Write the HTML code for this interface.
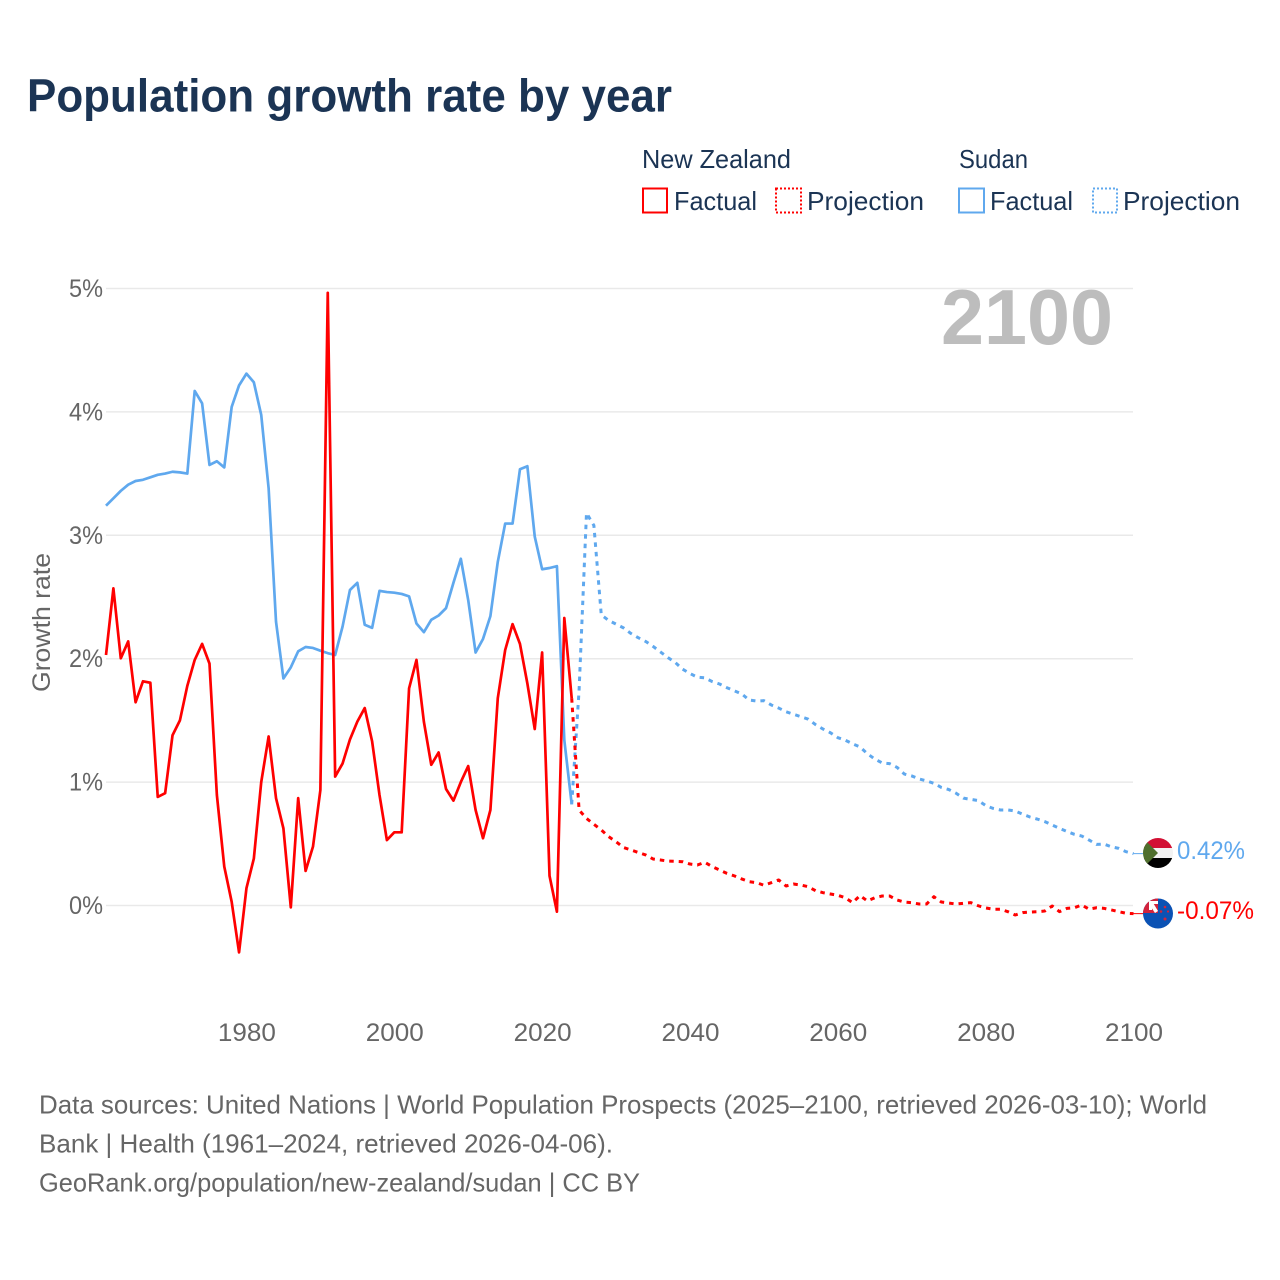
<!DOCTYPE html>
<html lang="en">
<head>
<meta charset="utf-8">
<title>Population growth rate by year</title>
<style>
html,body{margin:0;padding:0;background:#fff;width:1280px;height:1280px;overflow:hidden}
svg{display:block;font-family:"Liberation Sans",sans-serif}
</style>
</head>
<body>
<svg id="chart" xmlns="http://www.w3.org/2000/svg" width="1280" height="1280" viewBox="0 0 1280 1280">
  <rect width="1280" height="1280" fill="#fff"/>
  <text x="27" y="111.5" font-size="46" font-weight="700" fill="#1b3454" textLength="645" lengthAdjust="spacingAndGlyphs">Population growth rate by year</text>

  <g font-size="26" fill="#1b3454">
    <text x="642" y="168" textLength="149" lengthAdjust="spacingAndGlyphs">New Zealand</text>
    <text x="959" y="168" textLength="69" lengthAdjust="spacingAndGlyphs">Sudan</text>
    <g>
      <rect x="643" y="188.5" width="24" height="24" fill="none" stroke="#ff0000" stroke-width="2"/>
      <text x="674" y="210" textLength="83" lengthAdjust="spacingAndGlyphs">Factual</text>
    </g>
    <g>
      <rect x="776" y="188.5" width="25" height="24" fill="none" stroke="#ff0000" stroke-width="2" stroke-dasharray="2 2"/>
      <text x="807" y="210" textLength="117" lengthAdjust="spacingAndGlyphs">Projection</text>
    </g>
    <g>
      <rect x="959" y="188.5" width="25" height="24" fill="none" stroke="#5fa8ee" stroke-width="2"/>
      <text x="990" y="210" textLength="83" lengthAdjust="spacingAndGlyphs">Factual</text>
    </g>
    <g>
      <rect x="1093" y="188.5" width="24" height="24" fill="none" stroke="#5fa8ee" stroke-width="2" stroke-dasharray="2 2"/>
      <text x="1123" y="210" textLength="117" lengthAdjust="spacingAndGlyphs">Projection</text>
    </g>
  </g>

  <g id="grid"></g>
  <g id="yticks"></g>
  <g id="xticks"></g>

  <text transform="translate(50,692) rotate(-90)" font-size="25" fill="#666666" textLength="139" lengthAdjust="spacingAndGlyphs">Growth rate</text>
  <text x="941" y="344" font-size="78" font-weight="700" fill="#bdbdbd" textLength="172" lengthAdjust="spacingAndGlyphs">2100</text>

  <g id="series"></g>

  <defs>
    <clipPath id="clip-sd"><circle cx="1158" cy="853" r="15"/></clipPath>
    <clipPath id="clip-nz"><circle cx="1158" cy="913.5" r="15"/></clipPath>
  </defs>
  <g clip-path="url(#clip-sd)">
    <rect x="1143" y="838" width="30" height="10" fill="#d21034"/>
    <rect x="1143" y="848" width="30" height="10" fill="#f2f2f2"/>
    <rect x="1143" y="858" width="30" height="10" fill="#000"/>
    <polygon points="1143,838 1158,853 1143,868" fill="#4f6f2d"/>
  </g>
  <g clip-path="url(#clip-nz)">
    <rect x="1143" y="898" width="30" height="31" fill="#0b52b4"/>
    <rect x="1143" y="898" width="15" height="15" fill="#d2233c"/>
    <polygon points="1149,904 1152,901 1158,911 1155,913" fill="#fff"/>
    <rect x="1149" y="901" width="9" height="3" fill="#fff"/>
    <rect x="1149" y="901" width="3" height="9" fill="#fff"/>
    <circle cx="1165" cy="907" r="1.3" fill="#d2233c"/>
    <circle cx="1161" cy="911.5" r="1.3" fill="#d2233c"/>
    <circle cx="1168" cy="911.5" r="1.1" fill="#d2233c"/>
    <circle cx="1165" cy="919" r="1.5" fill="#d2233c"/>
  </g>
  <text x="1177" y="859" font-size="25" fill="#5fa8ee" textLength="68" lengthAdjust="spacingAndGlyphs">0.42%</text>
  <text x="1177" y="919" font-size="25" fill="#ff0000" textLength="77" lengthAdjust="spacingAndGlyphs">-0.07%</text>

  <g font-size="26" fill="#666666">
    <text x="39" y="1113.5" textLength="1168" lengthAdjust="spacingAndGlyphs">Data sources: United Nations | World Population Prospects (2025–2100, retrieved 2026-03-10); World</text>
    <text x="39" y="1152.5" textLength="574" lengthAdjust="spacingAndGlyphs">Bank | Health (1961–2024, retrieved 2026-04-06).</text>
    <text x="39" y="1191.5" textLength="601" lengthAdjust="spacingAndGlyphs">GeoRank.org/population/new-zealand/sudan | CC BY</text>
  </g>
</svg>

<script>
const yTickValues = [0, 1, 2, 3, 4, 5];
const yTickLabels = ['0%', '1%', '2%', '3%', '4%', '5%'];
const xTickValues = [1980, 2000, 2020, 2040, 2060, 2080, 2100];
const xTickLabels = ['1980', '2000', '2020', '2040', '2060', '2080', '2100'];

const factualStartYear = 1961;
const projectionStartYear = 2024;

const sudanFactual = [3.24,3.30,3.36,3.41,3.44,3.45,3.47,3.49,3.50,3.515,3.51,3.50,4.17,4.07,3.57,3.60,3.55,4.04,4.215,4.31,4.24,3.975,3.38,2.30,1.84,1.93,2.06,2.095,2.087,2.065,2.045,2.03,2.26,2.557,2.615,2.275,2.25,2.55,2.54,2.535,2.525,2.505,2.285,2.215,2.315,2.35,2.41,2.615,2.81,2.475,2.05,2.16,2.345,2.785,3.095,3.095,3.535,3.56,2.99,2.725,2.735,2.75,1.34,0.82];

const sudanProjection = [0.82,1.745,3.18,3.08,2.355,2.31,2.28,2.25,2.205,2.17,2.14,2.10,2.055,2.01,1.97,1.915,1.88,1.85,1.845,1.815,1.795,1.765,1.74,1.715,1.665,1.657,1.66,1.625,1.60,1.57,1.55,1.53,1.51,1.465,1.43,1.40,1.36,1.34,1.31,1.285,1.23,1.187,1.155,1.15,1.12,1.065,1.05,1.025,1.01,0.99,0.957,0.94,0.91,0.87,0.86,0.85,0.81,0.787,0.774,0.774,0.766,0.74,0.717,0.70,0.68,0.652,0.625,0.60,0.577,0.563,0.53,0.495,0.498,0.476,0.463,0.436,0.42];

const newZealandFactual = [2.03,2.57,2.003,2.14,1.647,1.817,1.805,0.88,0.91,1.38,1.50,1.78,1.99,2.12,1.96,0.895,0.315,0.03,-0.38,0.14,0.38,1.00,1.37,0.87,0.625,-0.015,0.87,0.28,0.477,0.935,4.965,1.045,1.15,1.345,1.49,1.60,1.33,0.895,0.53,0.593,0.593,1.76,1.99,1.49,1.14,1.24,0.944,0.85,1.00,1.13,0.774,0.545,0.774,1.68,2.07,2.28,2.12,1.80,1.43,2.05,0.24,-0.05,2.33,1.68];

const newZealandProjection = [1.68,0.774,0.706,0.658,0.612,0.558,0.517,0.47,0.45,0.43,0.41,0.377,0.369,0.36,0.358,0.355,0.336,0.328,0.35,0.315,0.288,0.26,0.24,0.215,0.193,0.185,0.164,0.185,0.207,0.158,0.174,0.166,0.152,0.12,0.104,0.093,0.083,0.063,0.023,0.08,0.037,0.063,0.077,0.077,0.045,0.028,0.023,0.012,0.012,0.071,0.028,0.02,0.012,0.018,0.023,-0.002,-0.02,-0.03,-0.03,-0.05,-0.077,-0.058,-0.053,-0.05,-0.045,-0.004,-0.05,-0.023,-0.018,0.004,-0.03,-0.018,-0.023,-0.036,-0.05,-0.063,-0.066];

const NS = 'http://www.w3.org/2000/svg';
const plotLeft = 106, plotRight = 1133.5, yearMin = 1961, yearMax = 2100;
const yZero = 905.5, yFive = 288.5;

function xScale(year) {
  return plotLeft + (year - yearMin) * (plotRight - plotLeft) / (yearMax - yearMin);
}
function yScale(value) {
  return yZero + (value - 0) * (yFive - yZero) / 5;
}
function make(tag, parent) {
  const el = document.createElementNS(NS, tag);
  parent.appendChild(el);
  return el;
}
function linePath(values, startYear) {
  return values.map(function (v, i) {
    return (i ? 'L' : 'M') + xScale(startYear + i).toFixed(2) + ' ' + yScale(v).toFixed(2);
  }).join('');
}
function drawSeries(name, values, startYear, color, dash) {
  const path = make('path', document.getElementById('series'));
  
  
  path.setAttribute('d', linePath(values, startYear));
  path.setAttribute('fill', 'none');
  path.setAttribute('stroke', color);
  path.setAttribute('stroke-width', dash ? '3' : '2.7');
  path.setAttribute('stroke-linejoin', 'round');
  if (dash) path.setAttribute('stroke-dasharray', dash);
}
function drawConnector(name, value, color) {
  const line = make('line', document.getElementById('series'));
  
  
  line.setAttribute('x1', xScale(yearMax));
  line.setAttribute('x2', xScale(yearMax) + 24);
  line.setAttribute('y1', yScale(value));
  line.setAttribute('y2', yScale(value));
  line.setAttribute('stroke', color);
  line.setAttribute('stroke-width', '1');
}

yTickValues.forEach(function (v, i) {
  const grid = make('line', document.getElementById('grid'));
  
  
  grid.setAttribute('x1', 106);
  grid.setAttribute('x2', 1133);
  grid.setAttribute('y1', yScale(v));
  grid.setAttribute('y2', yScale(v));
  grid.setAttribute('stroke', '#e9e9e9');
  grid.setAttribute('stroke-width', '1.5');

  const label = make('text', document.getElementById('yticks'));
  
  
  label.setAttribute('x', 103);
  label.setAttribute('y', yScale(v) + 8.5);
  label.setAttribute('text-anchor', 'end');
  label.setAttribute('font-size', '25');
  label.setAttribute('fill', '#666666');
  label.setAttribute('textLength', '34');
  label.setAttribute('lengthAdjust', 'spacingAndGlyphs');
  label.textContent = yTickLabels[i];
});

xTickValues.forEach(function (v, i) {
  const label = make('text', document.getElementById('xticks'));
  
  
  label.setAttribute('x', xScale(v) + 0.5);
  label.setAttribute('y', 1041);
  label.setAttribute('text-anchor', 'middle');
  label.setAttribute('font-size', '25');
  label.setAttribute('fill', '#666666');
  label.setAttribute('textLength', '58');
  label.setAttribute('lengthAdjust', 'spacingAndGlyphs');
  label.textContent = xTickLabels[i];
});

drawSeries('sudan-factual-line', sudanFactual, factualStartYear, '#5fa8ee', null);
drawSeries('sudan-projection-line', sudanProjection, projectionStartYear, '#5fa8ee', '4.5 5');
drawSeries('new-zealand-factual-line', newZealandFactual, factualStartYear, '#ff0000', null);
drawSeries('new-zealand-projection-line', newZealandProjection, projectionStartYear, '#ff0000', '4.5 5');
drawConnector('sudan-end-connector', sudanProjection[sudanProjection.length - 1], '#5fa8ee');
drawConnector('new-zealand-end-connector', newZealandProjection[newZealandProjection.length - 1], '#ff0000');
</script>
</body>
</html>
